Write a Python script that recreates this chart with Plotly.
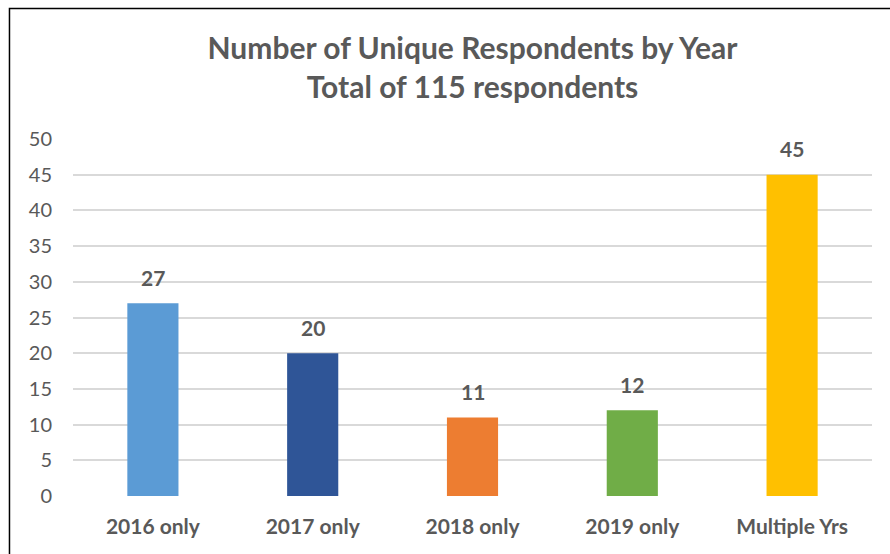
import plotly.graph_objects as go

categories = ["2016 only", "2017 only", "2018 only", "2019 only", "Multiple Yrs"]
values = [27, 20, 11, 12, 45]
colors = ["#5B9BD5", "#2F5597", "#ED7D31", "#70AD47", "#FFC000"]
y_ticks = [0, 5, 10, 15, 20, 25, 30, 35, 40, 45, 50]

FONT = "Lato, Open Sans, sans-serif"
GREY = "#595959"

fig = go.Figure(go.Bar(
    x=categories, y=values,
    marker=dict(color=colors, line=dict(width=0)),
    cliponaxis=False,
    hoverinfo="skip",
))

for c, v in zip(categories, values):
    fig.add_annotation(
        x=c, y=v, text=str(v), showarrow=False,
        yanchor="middle", yshift=26,
        font=dict(family=FONT, size=21, color=GREY, weight="bold"),
    )

fig.update_layout(
    width=890, height=554,
    margin=dict(l=73, r=18, t=139, b=58, autoexpand=False),
    paper_bgcolor="white", plot_bgcolor="white",
    bargap=0.68,
    showlegend=False,
    title=dict(
        text="Number of Unique Respondents by Year<br>Total of 115 respondents",
        x=0.5, xanchor="center", xref="paper",
        y=0.893, yanchor="middle",
        font=dict(family=FONT, size=30, color=GREY, weight="bold"),
    ),
    xaxis=dict(
        showgrid=False, showline=False, zeroline=False, automargin=False,
        tickfont=dict(family=FONT, size=21, color=GREY, weight="bold"),
        ticklabelstandoff=16,
    ),
    yaxis=dict(
        range=[0, 50], tickvals=y_ticks, automargin=False,
        showgrid=True, gridcolor="#D9D9D9", gridwidth=1.5,
        zeroline=False, showline=False,
        tickfont=dict(family=FONT, size=20, color=GREY),
        ticklabelstandoff=20,
    ),
    shapes=[dict(
        type="rect", xref="paper", yref="paper",
        x0=-0.0795, x1=1.2, y0=-0.3, y1=1.3655,
        line=dict(color="black", width=1.5), fillcolor="rgba(0,0,0,0)",
        layer="above",
    )],
)

fig.write_html(
    "out.html",
    config={"displayModeBar": False},
    post_script="document.body.style.margin='0';document.body.style.overflow='hidden';",
)
